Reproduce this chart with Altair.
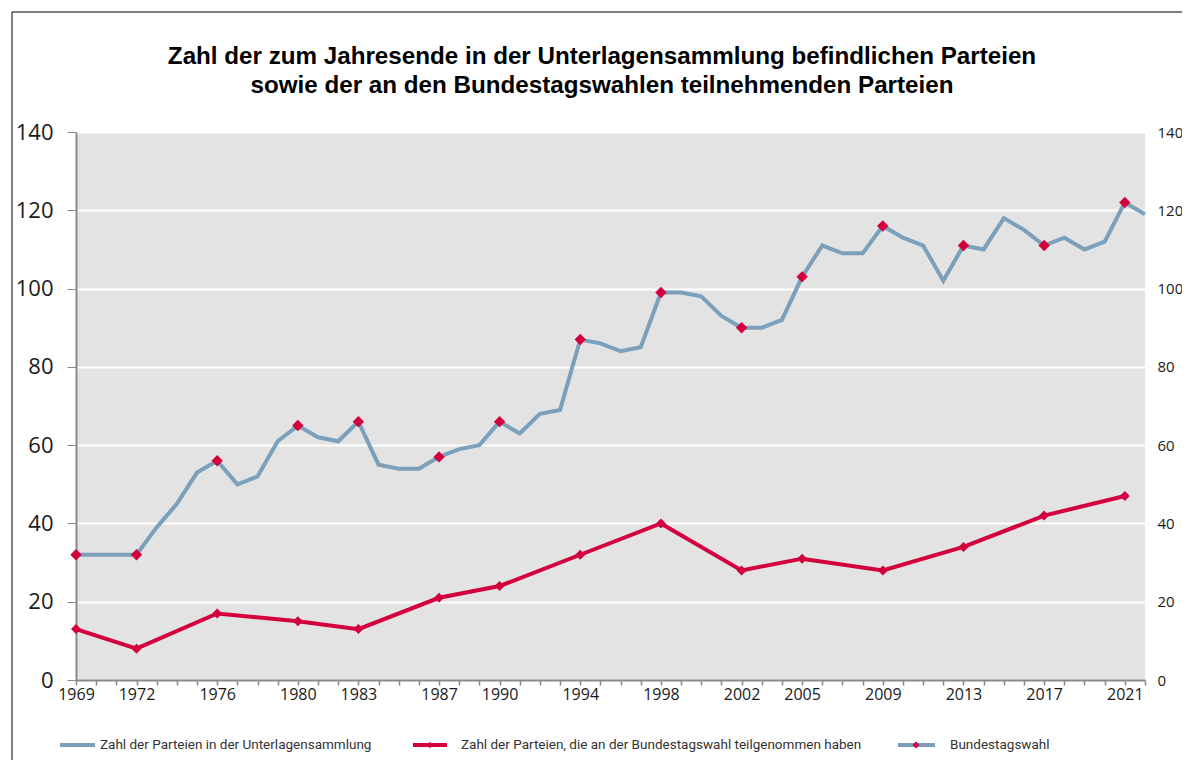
import altair as alt
import pandas as pd

# ---------------- data ----------------
years = list(range(1969, 2023))
parties_collection = [32, 32, 32, 32, 39, 45, 53, 56, 50, 52,
                      61, 65, 62, 61, 66, 55, 54, 54, 57, 59,
                      60, 66, 63, 68, 69, 87, 86, 84, 85, 99,
                      99, 98, 93, 90, 90, 92, 103, 111, 109, 109,
                      116, 113, 111, 102, 111, 110, 118, 115, 111, 113,
                      110, 112, 122, 119]
election_years = [1969, 1972, 1976, 1980, 1983, 1987, 1990, 1994, 1998,
                  2002, 2005, 2009, 2013, 2017, 2021]
parties_participating = [13, 8, 17, 15, 13, 21, 24, 32, 40, 28, 31, 28, 34, 42, 47]
y_ticks = [0, 20, 40, 60, 80, 100, 120, 140]

title_lines = ["Zahl der zum Jahresende in der Unterlagensammlung befindlichen Parteien",
               "sowie der an den Bundestagswahlen teilnehmenden Parteien"]
legend_labels = ["Zahl der Parteien in der Unterlagensammlung",
                 "Zahl der Parteien, die an der Bundestagswahl teilgenommen haben",
                 "Bundestagswahl"]

BLUE = "#7aa0bb"
RED = "#d2003c"
BG = "#e3e3e3"

df_blue = pd.DataFrame({"Jahr": years, "Wert": parties_collection})
df_red = pd.DataFrame({"Jahr": election_years, "Wert": parties_participating})
df_elec = df_blue[df_blue["Jahr"].isin(election_years)].reset_index(drop=True)
one = pd.DataFrame({"k": [0]})

W, H = 1069, 548
label_expr = "indexof(" + str(election_years) + ", datum.value) >= 0 ? datum.label : ''"

xscale = alt.Scale(domain=[1969, 2022], nice=False, zero=False)
yscale = alt.Scale(domain=[0, 140], nice=False)

xaxis = alt.Axis(values=years, labelExpr=label_expr, format="d", title=None,
                 grid=False, tickSize=5, tickColor="#8a8a8a", domainColor="#8a8a8a",
                 domainWidth=2, tickWidth=1.5, labelFont="Open Sans", labelFontSize=16,
                 labelColor="#1a1a1a", labelFlush=False, labelOverlap=False,
                 labelBound=False, labelPadding=1)
yaxis_left = alt.Axis(values=y_ticks, title=None,
                      grid=True, gridColor="white", gridWidth=2, tickSize=9,
                      tickColor="#8a8a8a", domainColor="#8a8a8a", domainWidth=2,
                      labelFont="Open Sans", labelFontSize=22, labelColor="#1a1a1a",
                      labelPadding=14, labelFlush=False)
yaxis_right = alt.Axis(values=y_ticks, title=None,
                       orient="right", grid=False, ticks=False, domain=False,
                       labelFont="Open Sans", labelFontSize=15, labelColor="#1a1a1a",
                       labelPadding=12, labelFlush=False)

X = alt.X("Jahr:Q", scale=xscale, axis=xaxis)
Y = alt.Y("Wert:Q", scale=yscale, axis=yaxis_left)

blue_line = alt.Chart(df_blue).mark_line(color=BLUE, strokeWidth=4).encode(x=X, y=Y)
red_line = alt.Chart(df_red).mark_line(color=RED, strokeWidth=4).encode(x=X, y=Y)
red_pts = alt.Chart(df_red).mark_point(shape="diamond", filled=True, color=RED,
                                       size=100, opacity=1).encode(x=X, y=Y)
blue_pts = alt.Chart(df_elec).mark_point(shape="diamond", filled=True, color=RED,
                                         size=130, opacity=1).encode(x=X, y=Y)

# ---- frame, title and manual legend (decoration, pixel positions relative to plot) ----
frame_left = alt.Chart(one).mark_rule(color="black", strokeWidth=1).encode(
    x=alt.value(-64), y=alt.value(-120), y2=alt.value(630))
frame_top = alt.Chart(one).mark_rule(color="black", strokeWidth=1).encode(
    x=alt.value(-64), x2=alt.value(1106), y=alt.value(-120))

titles = []
for txt, ypos in zip(title_lines, [-75, -46]):
    titles.append(alt.Chart(one).mark_text(text=txt, align="center", baseline="middle",
                                           font="Liberation Sans", fontWeight="bold",
                                           fontSize=24.2, color="black").encode(
        x=alt.value(526), y=alt.value(ypos)))

LY = 613
leg = []
leg.append(alt.Chart(one).mark_rule(color=BLUE, strokeWidth=4).encode(
    x=alt.value(-16), x2=alt.value(19), y=alt.value(LY)))
leg.append(alt.Chart(one).mark_rule(color=RED, strokeWidth=4).encode(
    x=alt.value(337), x2=alt.value(371), y=alt.value(LY)))
leg.append(alt.Chart(one).mark_point(shape="diamond", filled=True, color=RED, size=40,
                                     opacity=1).encode(x=alt.value(354), y=alt.value(LY)))
leg.append(alt.Chart(one).mark_rule(color=BLUE, strokeWidth=4).encode(
    x=alt.value(822), x2=alt.value(859), y=alt.value(LY)))
leg.append(alt.Chart(one).mark_point(shape="diamond", filled=True, color=RED, size=50,
                                     opacity=1).encode(x=alt.value(840), y=alt.value(LY)))
for txt, xpos in zip(legend_labels, [24, 385, 874]):
    leg.append(alt.Chart(one).mark_text(text=txt, align="left", baseline="middle",
                                        font="Roboto", fontSize=13.5, color="#333333").encode(
        x=alt.value(xpos), y=alt.value(LY)))

main = alt.layer(blue_line, red_line, red_pts, blue_pts, frame_left, frame_top,
                 *titles, *leg)

right_axis = alt.Chart(df_red).mark_point(opacity=0).encode(
    x=X,
    y=alt.Y("Wert:Q", scale=yscale, axis=yaxis_right),
)

chart = alt.layer(main, right_axis).resolve_axis(y="independent").properties(
    width=W, height=H,
    autosize=alt.AutoSizeParams(type="none"),
    padding={"left": 68, "top": 124, "right": 37, "bottom": 80},
    background="white",
).configure_view(fill=BG, stroke=None)

chart.save("out.html", embed_options={"renderer": "svg", "actions": False})
